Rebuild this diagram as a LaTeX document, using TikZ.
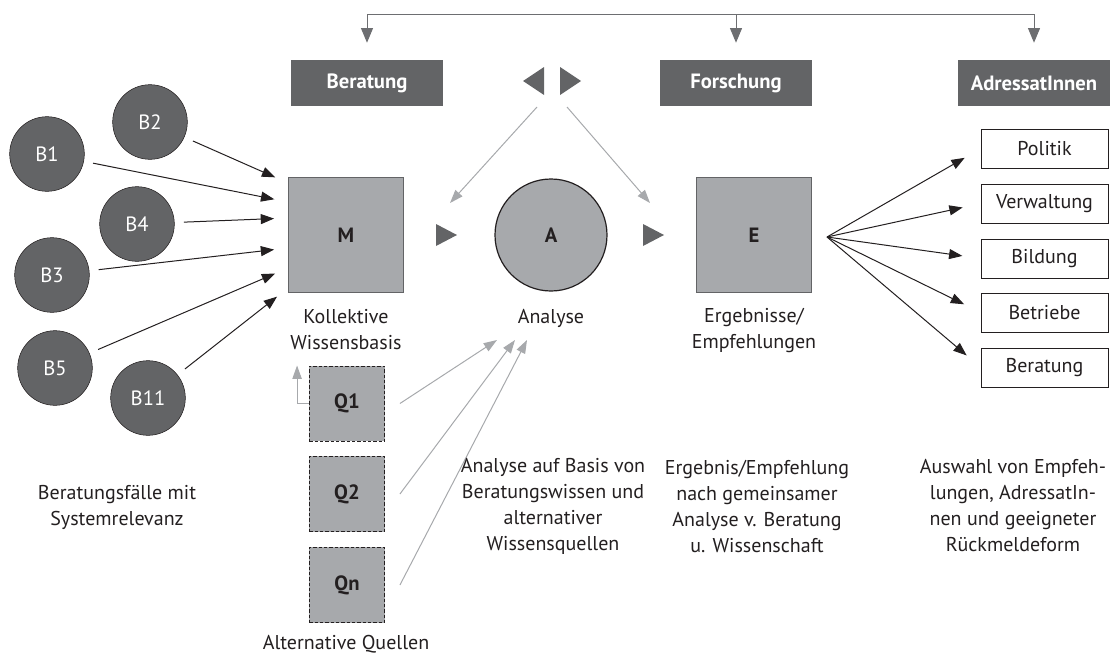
\documentclass[tikz,border=0pt]{standalone}
\usepackage{fontspec}
\setmainfont{PT Sans}
\usetikzlibrary{arrows.meta}
\definecolor{dunkel}{HTML}{636466}
\definecolor{hell}{HTML}{A7A9AC}
\definecolor{schwarz}{HTML}{231F20}
\definecolor{linie}{HTML}{6D6E71}

\begin{document}
\begin{tikzpicture}[x=0.75pt,y=-0.75pt,
        every node/.style={font=\fontsize{15pt}{19.5pt}\selectfont,text=schwarz},
        kopf/.style={fill=dunkel,text=white,inner sep=0pt,
            font=\fontsize{15.5pt}{19.5pt}\selectfont\bfseries,
            minimum width=114pt,minimum height=34.5pt},
        fall/.style={circle,draw=schwarz,fill=dunkel,text=white,
            inner sep=0pt,minimum size=56pt,font=\fontsize{15.5pt}{19.5pt}\selectfont},
        basis/.style={rectangle,draw=dunkel,fill=hell,line width=0.9pt,
            inner sep=0pt,minimum size=86pt,font=\fontsize{15.5pt}{19.5pt}\selectfont\bfseries},
        analyse/.style={circle,draw=schwarz,fill=hell,line width=0.9pt,
            inner sep=0pt,minimum size=84pt,font=\fontsize{15.5pt}{19.5pt}\selectfont\bfseries},
        quelle/.style={rectangle,draw=schwarz,fill=hell,dash pattern=on 2.5pt off 1.5pt,
            inner sep=0pt,minimum size=56.5pt,font=\fontsize{15.5pt}{19.5pt}\selectfont\bfseries},
        ziel/.style={rectangle,draw=schwarz,fill=white,inner sep=0pt,
            minimum width=95pt,minimum height=29pt},
        erkl/.style={align=center,inner sep=0pt},
        pfeil/.style={draw=schwarz,line width=0.75pt,
            -{Triangle[length=10pt,width=7.5pt]}},
        grau/.style={draw=hell,line width=0.75pt,
            -{Triangle[length=10pt,width=7pt]}},
        oben/.style={draw=linie,line width=0.75pt}]
    \useasboundingbox (0,0) rectangle (1110,657);
    %% Kopfzeile
    \node[kopf] (hB) at (367,83) {Beratung};
    \node[kopf] (hF) at (736,83) {Forschung};
    \node[kopf] (hA) at (1034,83) {AdressatInnen};
    \draw[oben,{Triangle[length=11pt,width=9pt]}-{Triangle[length=11pt,width=9pt]}]
        ([shift={(0,-17)}]hB.north) |- ([shift={(0,-45)}]hA.north)
        -- ([shift={(0,-17)}]hA.north);
    \draw[oben,-{Triangle[length=11pt,width=9pt]}]
        ([shift={(0,-45)}]hF.north) -- ([shift={(0,-17)}]hF.north);
    %% Wechselpfeile
    \coordinate (tl) at (533,81);
    \coordinate (tr) at (571,81);
    \fill[dunkel] (tl) ++(11,-14) -- ++(-21,14) -- ++(21,14) -- cycle;
    \fill[dunkel] (tr) ++(-11,-14) -- ++(21,14) -- ++(-21,14) -- cycle;
    %% Beratungsfaelle
    \node[fall] (B1) at (47,154) {B1};
    \node[fall] (B2) at (150,122) {B2};
    \node[fall] (B4) at (137,224) {B4};
    \node[fall] (B3) at (52,275) {B3};
    \node[fall] (B5) at (55,368) {B5};
    \node[fall] (B11) at (148,398) {B11};
    %% M, A, E
    \node[basis] (M) at (346,235) {M};
    \node[analyse] (A) at (551,235) {A};
    \node[basis] (E) at (754,235) {E};
    \node[erkl] (lM) at (346,330) {Kollektive\\Wissensbasis};
    \node[erkl] (lA) at (551,318) {Analyse};
    \node[erkl] (lE) at (754,330) {Ergebnisse/\\Empfehlungen};
    \coordinate (m1) at (446,235);
    \coordinate (m2) at (653,235);
    \fill[dunkel] (m1) ++(-10,-11) -- ++(21,11) -- ++(-21,11) -- cycle;
    \fill[dunkel] (m2) ++(-10,-11) -- ++(21,11) -- ++(-21,11) -- cycle;
    \coordinate (g1) at (450,203);
    \coordinate (g2) at (650,203);
    \draw[grau] ([shift={(4,26)}]tl) -- (g1);
    \draw[grau] ([shift={(-4,26)}]tr) -- (g2);
    %% Pfeile in die Wissensbasis
    \foreach \b/\dy in {B2/-52,B1/-33,B4/-17,B3/13,B5/33,B11/53}
        \draw[pfeil,shorten <=7pt,shorten >=10.5pt]
            (\b) -- ([shift={(0,\dy)}]M.west);
    %% Alternative Quellen
    \node[quelle] (Q1) at (347,403.5) {Q1};
    \node[quelle] (Q2) at (347,494) {Q2};
    \node[quelle] (Qn) at (347,585) {Qn};
    \node[erkl] (lQ) at (346,644) {Alternative Quellen};
    \draw[grau] (Q1.west) -- ++(-12,0) -- ++(0,-38);
    \coordinate (qa1) at (497,340);
    \coordinate (qa2) at (515,340);
    \coordinate (qa3) at (527,340);
    \draw[grau] ([shift={(15,0)}]Q1.east) -- (qa1);
    \draw[grau] ([shift={(15,0)}]Q2.east) -- (qa2);
    \draw[grau] ([shift={(15,0)}]Qn.east) -- (qa3);
    %% AdressatInnen
    \node[ziel] (Z1) at (1044.5,148.5) {Politik};
    \node[ziel] (Z2) at (1044.5,203.5) {Verwaltung};
    \node[ziel] (Z3) at (1044.5,258.5) {Bildung};
    \node[ziel] (Z4) at (1044.5,312.5) {Betriebe};
    \node[ziel] (Z5) at (1044.5,367.5) {Beratung};
    \coordinate (fan) at (827,237);
    \foreach \z in {Z1,Z2,Z3,Z4,Z5}
        \draw[pfeil,shorten >=14pt] (fan) -- (\z.west);
    %% Erlaeuterungen
    \node[erkl] (tB) at (117,507) {Beratungsfälle mit\\Systemrelevanz};
    \node[erkl] (tA) at (553,506) {Analyse auf Basis von\\Beratungswissen und\\alternativer\\Wissensquellen};
    \node[erkl] (tE) at (757,506) {Ergebnis/Empfehlung\\nach gemeinsamer\\Analyse v. Beratung\\u. Wissenschaft};
    \node[erkl] (tZ) at (1013,506) {Auswahl von Empfeh-\\lungen, AdressatIn-\\nen und geeigneter\\Rückmeldeform};
\end{tikzpicture}
\end{document}
